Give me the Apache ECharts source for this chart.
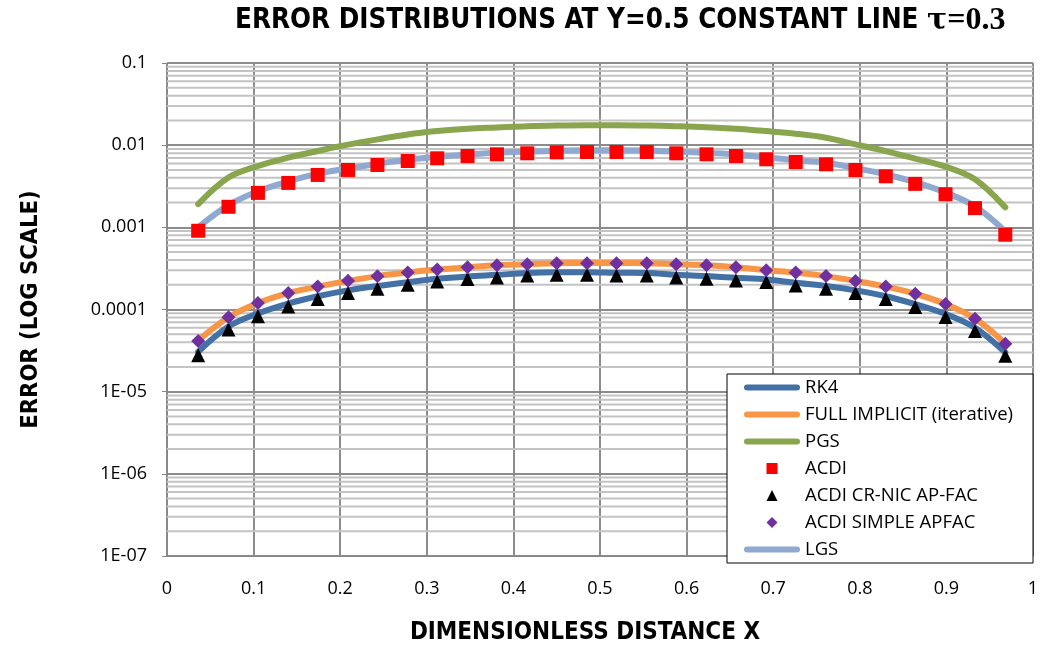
<!DOCTYPE html>
<html><head><meta charset="utf-8">
<script src="https://cdn.jsdelivr.net/npm/echarts@6/dist/echarts.min.js"></script>
<style>html,body{margin:0;padding:0;background:#fff}#c{width:1045px;height:650px}</style>
</head><body><div id="c"></div>
<script>
// ---- data ----
const xValues = [0.036,0.071,0.105,0.140,0.174,0.209,0.243,0.278,0.312,0.347,0.381,0.416,0.450,0.485,
                 0.519,0.554,0.588,0.623,0.657,0.692,0.726,0.761,0.795,0.830,0.864,0.899,0.933,0.968];
const seriesNames = ['RK4','FULL IMPLICIT (iterative)','PGS','ACDI','ACDI CR-NIC AP-FAC','ACDI SIMPLE APFAC','LGS'];
const rk4 = [3.05e-5,6.2e-5,8.95e-5,1.18e-4,1.45e-4,1.71e-4,1.93e-4,2.15e-4,2.36e-4,2.52e-4,2.64e-4,2.78e-4,2.84e-4,2.85e-4,
             2.80e-4,2.78e-4,2.64e-4,2.55e-4,2.43e-4,2.32e-4,2.11e-4,1.93e-4,1.71e-4,1.45e-4,1.16e-4,8.8e-5,6.0e-5,3.0e-5];
const fullImplicit = [4.2e-5,8.05e-5,1.2e-4,1.585e-4,1.9e-4,2.23e-4,2.55e-4,2.82e-4,3.06e-4,3.27e-4,3.46e-4,3.56e-4,3.66e-4,3.67e-4,
             3.67e-4,3.66e-4,3.56e-4,3.46e-4,3.27e-4,3.01e-4,2.82e-4,2.55e-4,2.23e-4,1.9e-4,1.555e-4,1.165e-4,7.75e-5,3.85e-5];
const pgs = [1.92e-3,4.04e-3,5.58e-3,7.05e-3,8.48e-3,1.014e-2,1.176e-2,1.352e-2,1.483e-2,1.585e-2,1.643e-2,1.704e-2,1.738e-2,1.752e-2,
             1.752e-2,1.738e-2,1.704e-2,1.657e-2,1.585e-2,1.483e-2,1.378e-2,1.233e-2,1.022e-2,8.48e-3,6.86e-3,5.49e-3,3.85e-3,1.75e-3];
const acdi = [9.09e-4,1.778e-3,2.626e-3,3.472e-3,4.341e-3,4.991e-3,5.74e-3,6.42e-3,6.92e-3,7.38e-3,7.74e-3,7.96e-3,8.18e-3,8.25e-3,
             8.25e-3,8.25e-3,7.96e-3,7.74e-3,7.38e-3,6.73e-3,6.24e-3,5.85e-3,4.99e-3,4.18e-3,3.38e-3,2.53e-3,1.713e-3,8.13e-4];
const acdiCrNic = [2.78e-5,5.69e-5,8.25e-5,1.09e-4,1.341e-4,1.585e-4,1.787e-4,1.999e-4,2.191e-4,2.343e-4,2.449e-4,2.59e-4,2.64e-4,2.64e-4,
             2.59e-4,2.59e-4,2.45e-4,2.362e-4,2.253e-4,2.154e-4,1.959e-4,1.787e-4,1.585e-4,1.341e-4,1.072e-4,8.11e-5,5.49e-5,2.73e-5];
const acdiSimple = [4.15e-5,8.02e-5,1.199e-4,1.585e-4,1.905e-4,2.234e-4,2.547e-4,2.817e-4,3.062e-4,3.273e-4,3.46e-4,3.558e-4,3.66e-4,3.66e-4,
             3.66e-4,3.66e-4,3.56e-4,3.46e-4,3.27e-4,3.01e-4,2.82e-4,2.55e-4,2.23e-4,1.905e-4,1.554e-4,1.166e-4,7.73e-5,3.82e-5];
const lgs = [1.0e-3,1.86e-3,2.75e-3,3.62e-3,4.5e-3,5.2e-3,5.95e-3,6.65e-3,7.2e-3,7.7e-3,8.1e-3,8.35e-3,8.55e-3,8.65e-3,
             8.65e-3,8.6e-3,8.35e-3,8.1e-3,7.7e-3,7.1e-3,6.55e-3,6.1e-3,5.25e-3,4.4e-3,3.55e-3,2.65e-3,1.8e-3,8.9e-4];
const yTickLabels = ['1E-07','1E-06','1E-05','0.0001','0.001','0.01','0.1'];
const xTickLabels = ['0','0.1','0.2','0.3','0.4','0.5','0.6','0.7','0.8','0.9','1'];

// ---- helpers ----
const pair = arr => xValues.map((x, i) => [x, arr[i]]);
const minorGrid = [];
for (let e = -7; e <= -2; e++) for (let k = 2; k <= 9; k++) minorGrid.push([0, k * Math.pow(10, e)]);

const SANS = "'Open Sans','Liberation Sans',sans-serif";
const BOLDC = "'Liberation Sans Narrow','DejaVu Sans Condensed','Open Sans',sans-serif";
const LINE_ICON = 'path://M3,0 L53,0 A3,3 0 0 1 53,6 L3,6 A3,3 0 0 1 3,0 Z';
const SQUARE_ICON = 'path://M0,0 L10,0 L10,10 L0,10 Z';
const TRIANGLE_ICON = 'path://M5,0 L10,10 L0,10 Z';
const DIAMOND_ICON = 'path://M5,0 L10,5 L5,10 L0,5 Z';

function lineSeries(name, data, color) {
  return { name, type: 'line', data: pair(data), smooth: 0.35, symbol: 'none', showSymbol: false, z: 3,
    lineStyle: { color, width: 6, cap: 'round' }, itemStyle: { color } };
}
function scatterSeries(name, data, color, symbol, size) {
  return { name, type: 'scatter', data: pair(data), symbol, symbolSize: size, z: 5,
    itemStyle: { color, opacity: 1 } };
}

const chart = echarts.init(document.getElementById('c'), null, { renderer: 'canvas' });
chart.setOption({
  animation: false,
  backgroundColor: '#fff',
  title: {
    left: 235, top: 5, padding: 0,
    text: '{a|ERROR DISTRIBUTIONS AT Y=0.5 CONSTANT LINE }{t|τ}{b|=0.3}',
    textStyle: {
      rich: {
        a: { fontFamily: BOLDC, fontWeight: 'bold', fontSize: 27.5, color: '#000' },
        t: { fontFamily: "'DejaVu Serif','Liberation Serif',serif", fontWeight: 'bold', fontSize: 30, color: '#000' },
        b: { fontFamily: "'Liberation Serif','DejaVu Serif',serif", fontSize: 32, color: '#000' }
      }
    }
  },
  grid: { left: 167, right: 12, top: 63, bottom: 92, containLabel: false },
  legend: {
    orient: 'vertical', left: 727, top: 374,
    padding: [4, 20, 4, 17], itemWidth: 56, itemHeight: 11, itemGap: 8,
    symbolKeepAspect: true,
    backgroundColor: '#fff', borderColor: '#000', borderWidth: 1, borderRadius: 0,
    textStyle: { fontFamily: SANS, fontSize: 18.5, color: '#000' },
    data: [
      { name: seriesNames[0], icon: LINE_ICON },
      { name: seriesNames[1], icon: LINE_ICON },
      { name: seriesNames[2], icon: LINE_ICON },
      { name: seriesNames[3], icon: SQUARE_ICON },
      { name: seriesNames[4], icon: TRIANGLE_ICON },
      { name: seriesNames[5], icon: DIAMOND_ICON },
      { name: seriesNames[6], icon: LINE_ICON }
    ]
  },
  xAxis: {
    type: 'value', min: 0, max: 1, interval: 0.1,
    name: 'DIMENSIONLESS DISTANCE X', nameLocation: 'middle', nameGap: 65,
    nameTextStyle: { fontFamily: BOLDC, fontWeight: 'bold', fontSize: 24, color: '#000', padding: [0, 30, 0, 0] },
    axisLine: { show: true, lineStyle: { color: '#868686', width: 1 } },
    axisTick: { show: false },
    axisLabel: { margin: 24, fontFamily: SANS, fontSize: 18, color: '#000',
      formatter: (v) => xTickLabels[Math.round(v * 10)] },
    splitLine: { show: true, lineStyle: { color: '#8c8c8c', width: 2 } }
  },
  yAxis: {
    type: 'log', logBase: 10, min: 1e-7, max: 0.1,
    name: 'ERROR (LOG SCALE)', nameLocation: 'middle', nameGap: 124,
    nameTextStyle: { fontFamily: BOLDC, fontWeight: 'bold', fontSize: 23.5, color: '#000' },
    axisLine: { show: true, lineStyle: { color: '#868686', width: 1 } },
    axisTick: { show: true, inside: false, length: 5, lineStyle: { color: '#868686' } },
    axisLabel: { margin: 20, fontFamily: SANS, fontSize: 18, color: '#000',
      formatter: (v) => yTickLabels[Math.round(Math.log10(v)) + 7] },
    splitLine: { show: true, lineStyle: { color: '#8c8c8c', width: 2 } }
  },
  series: [
    { name: '_minor', type: 'custom', data: minorGrid, silent: true, z: 1, clip: false,
      encode: { x: 0, y: 1 },
      renderItem: (params, api) => {
        const v = api.value(1);
        const p0 = api.coord([0, v]);
        const p1 = api.coord([1, v]);
        return { type: 'line', shape: { x1: p0[0], y1: p0[1], x2: p1[0], y2: p1[1] },
          style: { stroke: '#c3c3c3', lineWidth: 2 } };
      } },
    lineSeries(seriesNames[2], pgs, '#89A54E'),
    lineSeries(seriesNames[6], lgs, '#8FA9D0'),
    lineSeries(seriesNames[1], fullImplicit, '#F79646'),
    lineSeries(seriesNames[0], rk4, '#4471A5'),
    scatterSeries(seriesNames[3], acdi, '#FF0000', 'rect', 14),
    scatterSeries(seriesNames[4], acdiCrNic, '#000000', 'triangle', 14),
    scatterSeries(seriesNames[5], acdiSimple, '#7030A0', 'diamond', 14)
  ]
});
</script></body></html>
